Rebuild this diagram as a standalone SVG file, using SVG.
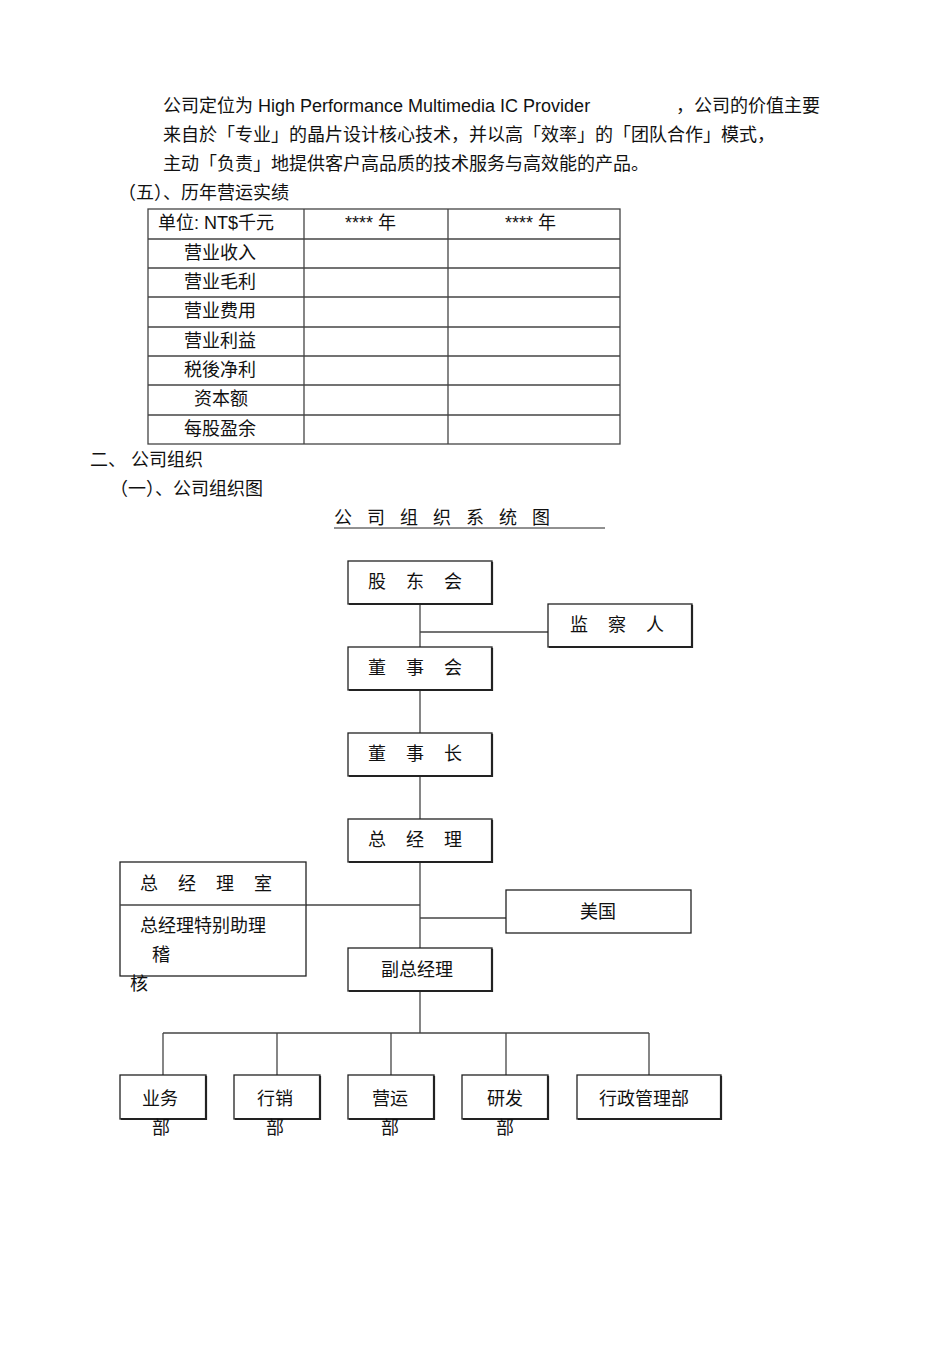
<svg xmlns="http://www.w3.org/2000/svg" width="950" height="1345" viewBox="0 0 950 1345">
<style>
text{font-family:"Liberation Sans","Noto Sans CJK SC",sans-serif;font-size:18px;fill:#111}
.b{fill:#fff;stroke:#222;stroke-width:1.3}
.s{fill:none;stroke:#222;stroke-width:2.2}
.l{stroke:#444;stroke-width:1.3;fill:none}
.c{text-anchor:middle}
</style>
<rect width="950" height="1345" fill="#fff"/>
<text x="163" y="112">公司定位为  High Performance Multimedia IC Provider</text>
<text x="676" y="112">，公司的价值主要</text>
<text x="163" y="141">来自於「专业」的晶片设计核心技术，并以高「效率」的「团队合作」模式，</text>
<text x="163" y="170">主动「负责」地提供客户高品质的技术服务与高效能的产品。</text>
<text x="118" y="199">（五）、历年营运实绩</text>
<g id="table" class="l">
<rect x="148" y="209" width="472" height="235"/>
<line x1="304" y1="209" x2="304" y2="444"/><line x1="448" y1="209" x2="448" y2="444"/>
<line x1="148" y1="239" x2="620" y2="239"/><line x1="148" y1="268" x2="620" y2="268"/>
<line x1="148" y1="297" x2="620" y2="297"/><line x1="148" y1="327" x2="620" y2="327"/>
<line x1="148" y1="356" x2="620" y2="356"/><line x1="148" y1="385" x2="620" y2="385"/>
<line x1="148" y1="415" x2="620" y2="415"/>
</g>
<text x="158" y="229">单位:   NT$千元</text>
<text x="345" y="229">****   年</text>
<text x="505" y="229">****   年</text>
<text x="184" y="259">营业收入</text><text x="184" y="288">营业毛利</text>
<text x="184" y="317">营业费用</text><text x="184" y="347">营业利益</text>
<text x="184" y="376">税後净利</text><text x="194" y="405">资本额</text>
<text x="184" y="435">每股盈余</text>
<text x="90" y="466">二、  公司组织</text>
<text x="110" y="495">（一）、公司组织图</text>
<text x="334" y="524" xml:space="preserve">公   司   组   织   系   统   图</text>
<line x1="334" y1="528" x2="605" y2="528" stroke="#222" stroke-width="1"/>
<g id="connectors" class="l">
<line x1="420" y1="604" x2="420" y2="1033"/>
<line x1="420" y1="632" x2="548" y2="632"/>
<line x1="306" y1="905" x2="420" y2="905"/>
<line x1="420" y1="918" x2="506" y2="918"/>
<line x1="163" y1="1033" x2="649" y2="1033"/>
<line x1="163" y1="1033" x2="163" y2="1075"/><line x1="277" y1="1033" x2="277" y2="1075"/>
<line x1="391" y1="1033" x2="391" y2="1075"/><line x1="506" y1="1033" x2="506" y2="1075"/>
<line x1="649" y1="1033" x2="649" y2="1075"/>
</g>
<g id="n1"><rect class="b" x="348" y="561" width="144" height="43"/><path class="s" d="M349 604H492V562"/><text x="368" y="588" xml:space="preserve">股    东    会</text></g>
<g id="n2"><rect class="b" x="548" y="604" width="144" height="43"/><path class="s" d="M549 647H692V605"/><text x="570" y="631" xml:space="preserve">监    察    人</text></g>
<g id="n3"><rect class="b" x="348" y="647" width="144" height="43"/><path class="s" d="M349 690H492V648"/><text x="368" y="674" xml:space="preserve">董    事    会</text></g>
<g id="n4"><rect class="b" x="348" y="733" width="144" height="43"/><path class="s" d="M349 776H492V734"/><text x="368" y="760" xml:space="preserve">董    事    长</text></g>
<g id="n5"><rect class="b" x="348" y="819" width="144" height="43"/><path class="s" d="M349 862H492V820"/><text x="368" y="846" xml:space="preserve">总    经    理</text></g>
<g id="n6"><rect class="b" x="120" y="862" width="186" height="114"/><line class="l" x1="120" y1="905" x2="306" y2="905"/>
<text x="140" y="890" xml:space="preserve">总    经    理    室</text>
<text x="140" y="932">总经理特别助理</text><text x="152" y="961">稽</text></g>
<text x="130" y="990">核</text>
<g id="n7"><rect class="b" x="506" y="890" width="185" height="43"/><text class="c" x="598" y="918">美国</text></g>
<g id="n8"><rect class="b" x="348" y="948" width="144" height="43"/><path class="s" d="M349 991H492V949"/><text class="c" x="417" y="976">副总经理</text></g>
<g id="d1"><rect class="b" x="120" y="1075" width="86" height="44"/><path class="s" d="M121 1119H206V1076"/><text x="142" y="1105">业务</text><text x="152" y="1134">部</text></g>
<g id="d2"><rect class="b" x="234" y="1075" width="86" height="44"/><path class="s" d="M235 1119H320V1076"/><text x="257" y="1105">行销</text><text x="266" y="1134">部</text></g>
<g id="d3"><rect class="b" x="348" y="1075" width="86" height="44"/><path class="s" d="M349 1119H434V1076"/><text x="372" y="1105">营运</text><text x="381" y="1134">部</text></g>
<g id="d4"><rect class="b" x="462" y="1075" width="86" height="44"/><path class="s" d="M463 1119H548V1076"/><text x="487" y="1105">研发</text><text x="496" y="1134">部</text></g>
<g id="d5"><rect class="b" x="577" y="1075" width="144" height="44"/><path class="s" d="M578 1119H721V1076"/><text x="599" y="1105">行政管理部</text></g>
</svg>
